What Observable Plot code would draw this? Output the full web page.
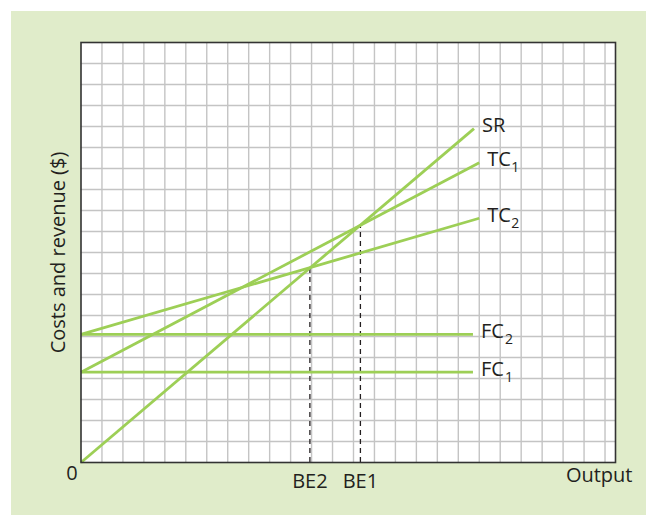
<!DOCTYPE html>
<html>
<head>
<meta charset="utf-8">
<script src="https://cdn.jsdelivr.net/npm/d3@7"></script>
<script src="https://cdn.jsdelivr.net/npm/@observablehq/plot@0.6"></script>
<style>
  html, body { margin: 0; padding: 0; background: #ffffff; }
  #wrap { position: relative; width: 646px; height: 515px; overflow: hidden; }
  #bg { position: absolute; left: 11px; top: 11px; right: 0; bottom: 0; background: #e0ecca; }
  #chart { position: absolute; left: 0; top: 0; }
  #chart svg { background: transparent !important; }
</style>
</head>
<body>
<div id="wrap"><div id="bg"></div><div id="chart"></div></div>
<script>
// ---- data (grid units) ----
const seriesNames = ["SR", "TC", "TC", "FC", "FC"];
const seriesSubs  = ["",   "1",  "2",  "2",  "1"];
const startX = [0, 0, 0, 0, 0];
const startY = [0, 4.3, 6.1, 6.1, 4.3];
const endX   = [18.75, 19.0, 19.0, 18.7, 18.7];
const endY   = [15.9, 14.27, 11.63, 6.1, 4.3];

const beLabels = ["BE2", "BE1"];
const beX      = [10.92, 13.33];
const beTop    = [9.3, 11.29];

const xGrid = [1,2,3,4,5,6,7,8,9,10,11,12,13,14,15,16,17,18,19,20,21,22,23,24,25];
const yGrid = [1,2,3,4,5,6,7,8,9,10,11,12,13,14,15,16,17,18,19];

const xAxisLabel = "Output";
const yAxisLabel = "Costs and revenue ($)";
const originLabel = "0";

const lines = seriesNames.map((n, i) => ({
  name: n, sub: seriesSubs[i], x1: startX[i], y1: startY[i], x2: endX[i], y2: endY[i]
}));
const bes = beLabels.map((l, i) => ({label: l, x: beX[i], top: beTop[i]}));

const green = "#9dcf56";
const ink = "#231f20";
const font = "Open Sans";
const fs = 20;

const chart = Plot.plot({
  width: 646,
  height: 515,
  marginLeft: 80.5,
  marginRight: 31,
  marginTop: 42,
  marginBottom: 53,
  style: {fontFamily: font, background: "transparent", color: ink},
  x: {domain: [0, 25.5], axis: null},
  y: {domain: [0, 20], axis: null},
  marks: [
    Plot.frame({fill: "white", stroke: null}),
    Plot.ruleX(xGrid, {stroke: "#c4c4c4", strokeWidth: 1.4}),
    Plot.ruleY(yGrid, {stroke: "#c4c4c4", strokeWidth: 1.4}),
    Plot.ruleX(bes, {x: "x", y1: 0, y2: "top", stroke: ink, strokeWidth: 1.3, strokeDasharray: "5,4"}),
    Plot.link(lines, {x1: "x1", y1: "y1", x2: "x2", y2: "y2", stroke: green, strokeWidth: 2.8}),
    Plot.frame({stroke: "#333", strokeWidth: 1.6}),
    // series labels
    Plot.text(lines, {x: "x2", y: "y2", text: "name", textAnchor: "start", dx: 8, dy: -3,
      fontSize: fs, fill: ink}),
    Plot.text(lines.filter(d => d.sub), {x: "x2", y: "y2", text: "sub", textAnchor: "start", dx: 32, dy: 5,
      fontSize: 14, fill: ink}),
    // break-even labels
    Plot.text(bes, {x: "x", y: 0, text: "label", dy: 19, fontSize: fs, fill: ink}),
    Plot.text([originLabel], {x: 0, y: 0, text: d => d, dx: -9, dy: 11, fontSize: fs, fill: ink}),
    Plot.text([xAxisLabel], {frameAnchor: "bottom-right", text: d => d, textAnchor: "end", dx: 17, dy: 19,
      fontSize: fs, fill: ink}),
    Plot.text([yAxisLabel], {frameAnchor: "left", text: d => d, textAnchor: "middle", rotate: -90, dx: -22.5,
      fontSize: fs, fill: ink})
  ]
});
document.getElementById("chart").appendChild(chart);
</script>
</body>
</html>
